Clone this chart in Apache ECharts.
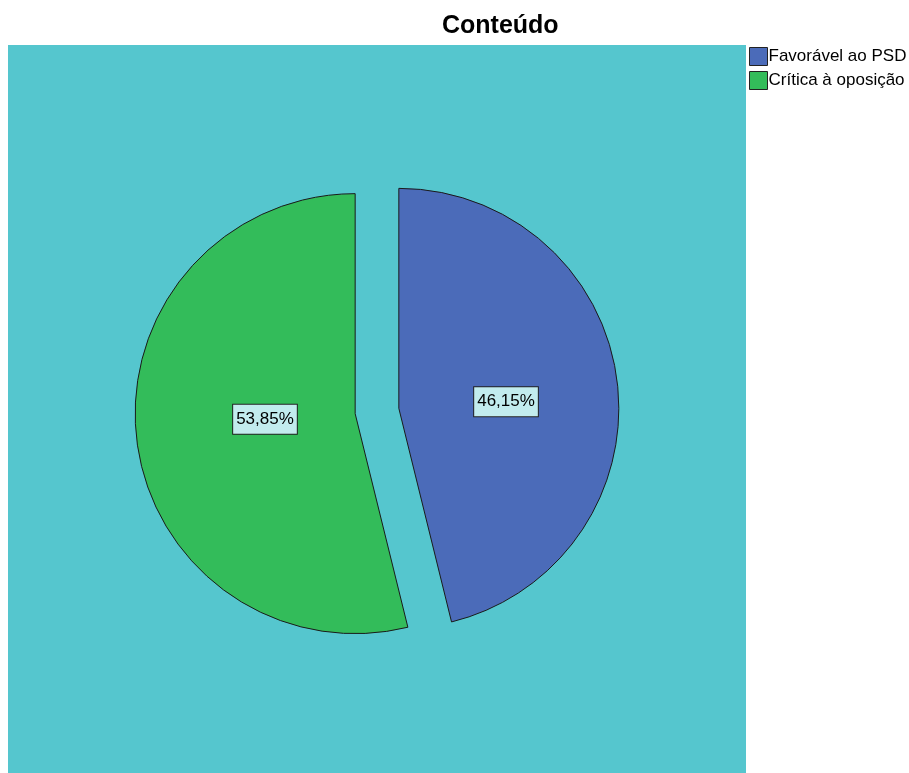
<!DOCTYPE html>
<html>
<head>
<meta charset="utf-8">
<script src="https://cdn.jsdelivr.net/npm/echarts@6/dist/echarts.min.js"></script>
<style>html,body{margin:0;padding:0;background:#fff}#c{width:909px;height:773px}</style>
</head>
<body>
<div id="c"></div>
<script>
const categories = ['Favorável ao PSD', 'Crítica à oposição'];
const values = [46.15, 53.85];
const colors = ['#4B6BB9', '#33BC5A'];
const labelOffsets = [[-5, 7], [22, -8]];

const FONT = 'Liberation Sans, Arial, sans-serif';
const chart = echarts.init(document.getElementById('c'), null, {renderer: 'canvas'});
const data = categories.map((n, i) => ({
  name: n,
  value: values[i],
  selected: true,
  itemStyle: {color: colors[i]},
  select: {itemStyle: {color: colors[i], borderColor: '#1a1a1a', borderWidth: 1}}
}));
chart.setOption({
  animation: false,
  textStyle: {fontFamily: FONT},
  title: {
    text: 'Conteúdo',
    left: 437, top: 9,
    textStyle: {fontSize: 25, fontWeight: 'bold', color: '#000', fontFamily: FONT}
  },
  graphic: [{
    type: 'rect', z: -10, silent: true,
    shape: {x: 8, y: 45, width: 738, height: 728},
    style: {fill: '#55C6CE'}
  }],
  legend: {
    orient: 'vertical', left: 749, top: 47, padding: 0,
    itemWidth: 18, itemHeight: 18, itemGap: 5,
    icon: 'rect',
    selectedMode: false,
    itemStyle: {borderColor: '#222', borderWidth: 1},
    textStyle: {fontSize: 17, color: '#000', padding: [0, 0, 0, -4], fontFamily: FONT},
    data: categories
  },
  series: [{
    type: 'pie',
    center: [377, 411],
    radius: [0, 220],
    startAngle: 90,
    clockwise: true,
    selectedMode: 'multiple',
    selectedOffset: 22,
    avoidLabelOverlap: false,
    itemStyle: {borderColor: '#1a1a1a', borderWidth: 1},
    emphasis: {disabled: true},
    label: {
      show: true, position: 'inside',
      formatter: p => p.value.toFixed(2).replace('.', ',') + '%',
      color: '#000', fontSize: 17, lineHeight: 17,
      fontFamily: FONT,
      backgroundColor: '#C2ECEE', borderColor: '#222', borderWidth: 1,
      padding: [6, 3, 6, 3]
    },
    labelLayout: p => ({dx: labelOffsets[p.dataIndex][0], dy: labelOffsets[p.dataIndex][1]}),
    labelLine: {show: false},
    data: data
  }]
});
</script>
</body>
</html>
